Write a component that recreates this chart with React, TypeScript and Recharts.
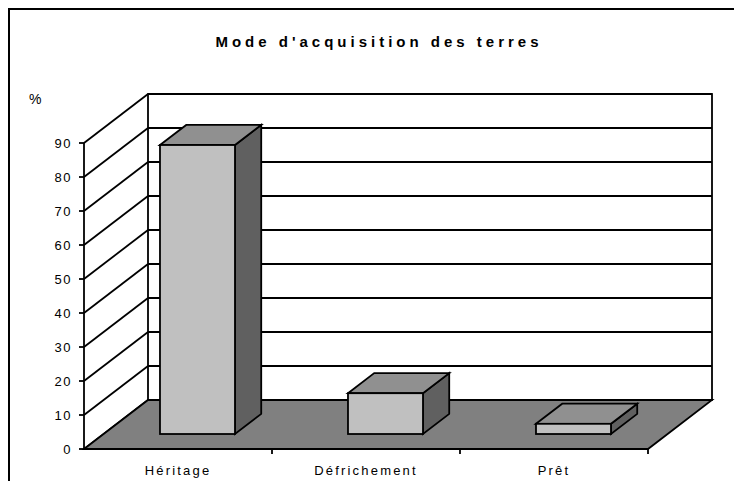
import React from 'react';
import { BarChart, Bar, XAxis, YAxis, CartesianGrid, ReferenceArea } from 'recharts';

const categories = ['Héritage', 'Défrichement', 'Prêt'];
const percentages = [85, 12, 3];
const yTicks = [0, 10, 20, 30, 40, 50, 60, 70, 80, 90];

const data = categories.map((name, i) => ({ name, value: percentages[i] }));

// oblique projection used for the fake 3D look
const DEPTH_X = 64;
const DEPTH_Y = -49;
const BAR_FRONT = 0.306; // bars stand this far back on the floor
const BAR_DEPTH = 0.41;
const LINE = 1.8;
const FONT = '"Liberation Sans", Arial, sans-serif';

// each horizontal grid line: diagonal on the side wall + line on the back wall
const gridLine = (props: any) => {
  const { x1, y1, x2, index } = props;
  const bx = x1 + DEPTH_X;
  const by = y1 + DEPTH_Y;
  return (
    <g key={`grid-${index}`}>
      <line x1={x1} y1={y1} x2={bx} y2={by} stroke="#000" strokeWidth={LINE} />
      <line x1={bx} y1={by} x2={x2 + DEPTH_X} y2={by} stroke="#000" strokeWidth={LINE} />
    </g>
  );
};

// back wall outline + grey floor
const Walls = (props: any) => {
  const { x, y, width, height } = props;
  const bottom = y + height;
  const right = x + width;
  const floor = [
    [x, bottom],
    [right, bottom],
    [right + DEPTH_X, bottom + DEPTH_Y],
    [x + DEPTH_X, bottom + DEPTH_Y],
  ].map((p) => p.join(',')).join(' ');
  return (
    <g>
      <rect x={x + DEPTH_X} y={y + DEPTH_Y} width={width} height={height}
        fill="none" stroke="#000" strokeWidth={LINE} />
      <polygon points={floor} fill="#808080" stroke="#000" strokeWidth={LINE} strokeLinejoin="miter" />
    </g>
  );
};

const Box3D = (props: any) => {
  const { x, y, width, height } = props;
  if (width == null || height == null) return null;
  const fx = x + DEPTH_X * BAR_FRONT;
  const fy = y + DEPTH_Y * BAR_FRONT;
  const dx = DEPTH_X * BAR_DEPTH;
  const dy = DEPTH_Y * BAR_DEPTH;
  const pts = (arr: number[][]) => arr.map((p) => p.join(',')).join(' ');
  const top = pts([[fx, fy], [fx + dx, fy + dy], [fx + width + dx, fy + dy], [fx + width, fy]]);
  const side = pts([[fx + width, fy], [fx + width + dx, fy + dy], [fx + width + dx, fy + height + dy], [fx + width, fy + height]]);
  return (
    <g stroke="#000" strokeWidth={LINE} strokeLinejoin="miter">
      <polygon points={side} fill="#606060" />
      <polygon points={top} fill="#909090" />
      <rect x={fx} y={fy} width={width} height={height} fill="#C0C0C0" />
    </g>
  );
};

const CategoryTick = (props: any) => {
  const { x, y, payload } = props;
  const half = payload?.offset ?? 0;
  return (
    <g>
      <line x1={x + half} y1={y - 5} x2={x + half} y2={y} stroke="#000" strokeWidth={LINE} />
      <text x={x} y={y + 21} textAnchor="middle" fontSize={13} fontFamily={FONT}
        letterSpacing={2.2} fill="#000">
        {payload.value}
      </text>
    </g>
  );
};

export default function App() {
  return (
    <div style={{ position: 'absolute', left: 0, top: 0, width: 734, height: 481, overflow: 'hidden', background: '#fff' }}>
      <div style={{ position: 'absolute', left: 8, top: 8, width: 760, height: 520, borderTop: '2px solid #000', borderLeft: '2px solid #000' }} />
      <div style={{ position: 'absolute', left: 0, top: 33, width: 758, textAlign: 'center', fontFamily: FONT, fontWeight: 'bold', fontSize: 15, letterSpacing: 4 }}>
        Mode d'acquisition des terres
      </div>
      <div style={{ position: 'absolute', left: 29, top: 91, fontFamily: FONT, fontSize: 14 }}>%</div>
      <div style={{ position: 'absolute', left: 0, top: 0 }}>
        <BarChart width={734} height={481} data={data} barCategoryGap="30%"
          margin={{ top: 143, right: 86, bottom: 7, left: 44 }}>
          <CartesianGrid horizontal={gridLine} vertical={false} />
          <ReferenceArea y1={0} y2={90} shape={Walls} ifOverflow="visible" />
          <XAxis dataKey="name" height={25} tickSize={5} tickMargin={0} tickLine={false}
            axisLine={{ stroke: '#000', strokeWidth: LINE }} tick={CategoryTick} interval={0} />
          <YAxis width={40} domain={[0, 90]} ticks={yTicks} interval={0} tickSize={5} tickMargin={7}
            axisLine={{ stroke: '#000', strokeWidth: LINE }} tickLine={{ stroke: '#000', strokeWidth: LINE }}
            tick={{ fill: '#000', fontSize: 13, fontFamily: FONT, letterSpacing: 1.5 }} />
          <Bar dataKey="value" shape={Box3D} isAnimationActive={false} />
        </BarChart>
      </div>
    </div>
  );
}
